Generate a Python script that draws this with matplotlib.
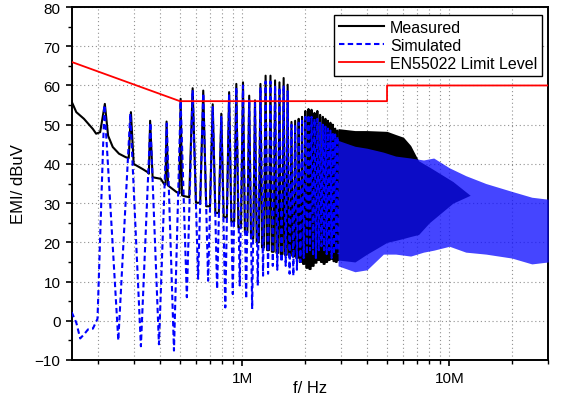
import numpy as np
import matplotlib.pyplot as plt
from matplotlib.ticker import FixedLocator, NullFormatter, MultipleLocator

plt.rcParams['font.family'] = ['Liberation Sans', 'DejaVu Sans']

# switching fundamental (MHz), harmonics are multiples of it
f0 = 0.072

# measured trace below 0.53 MHz (MHz, dBuV)
meas_low_f = [0.150, 0.158, 0.172, 0.190, 0.197, 0.206, 0.217, 0.225, 0.237, 0.254,
              0.274, 0.283, 0.290, 0.299, 0.330, 0.349, 0.354, 0.359, 0.369, 0.404,
              0.419, 0.426, 0.431, 0.438, 0.482, 0.497, 0.504, 0.512, 0.523]
meas_low_v = [55.9, 53.2, 51.5, 48.9, 47.7, 48.1, 55.3, 47.2, 44.3, 42.6,
              41.7, 41.5, 53.2, 40.0, 38.7, 37.9, 37.5, 51.0, 36.6, 36.2,
              34.9, 34.7, 50.8, 34.5, 32.8, 32.5, 56.6, 32.0, 31.8]

# measured harmonic peaks, orders 8..40
meas_n = list(range(8, 41))
meas_peak = [59.3, 58.7, 55.2, 52.8, 58.3, 60.4, 60.8, 57.4, 56.2, 60.4,
             62.5, 62.5, 61.3, 60.8, 61.9, 60.2, 50.7, 51.0, 51.5, 52.0,
             53.5, 54.0, 53.8, 53.0, 53.5, 52.5, 52.0, 51.5, 51.0, 50.5,
             50.0, 49.0, 48.5]
# measured floor between order n and n+1, n = 7..40
meas_floor = [31.5, 30.1, 29.2, 27.5, 26.4, 25.3, 23.8, 22.5, 21.0, 20.0,
              18.7, 18.0, 17.6, 17.3, 17.0, 16.8, 16.6, 16.4, 16.0, 15.0,
              14.5, 13.5, 13.2, 14.0, 14.8, 15.5, 15.0, 14.5, 15.0, 15.5,
              15.8, 15.2, 15.0, 15.5]

# simulated trace below the 3rd harmonic
sim_low_f = [0.150, 0.158, 0.165, 0.172, 0.180, 0.190, 0.200]
sim_low_v = [2.2, -0.5, -4.5, -3.5, -2.2, -2.0, 0.5]
# simulated harmonic peaks and troughs, orders 3..40
sim_n = list(range(3, 41))
sim_peak = [55.0, 52.8, 50.5, 50.3, 56.0, 58.8, 58.0, 54.5, 52.0, 57.5,
            59.5, 60.0, 56.5, 55.5, 59.5, 61.0, 61.0, 60.0, 59.5, 60.0,
            58.5, 50.0, 50.0, 50.5, 51.0, 52.0, 52.5, 52.0, 51.5, 51.5,
            50.5, 50.0, 49.5, 49.0, 48.5, 48.0, 47.5, 47.0]
sim_trough = [-5.0, -6.5, -6.0, -7.6, 6.0, 10.7, 10.2, 8.1, 3.4, 6.8,
              9.0, 5.6, 3.0, 9.0, 11.5, 12.0, 14.0, 13.0, 15.0, 14.0,
              12.0, 11.5, 13.0, 15.0, 16.0, 17.0, 18.0, 17.0, 16.0, 18.0,
              19.0, 18.0, 17.0, 18.0, 16.0, 17.0, 18.0, 17.0]

# dense part above ~2.9 MHz: envelopes
meas_band_f = [2.9, 3.5, 4.0, 5.0, 5.5, 6.0, 6.5, 7.1, 8.0, 10.4, 12.6]
meas_top = [49.0, 48.5, 48.5, 48.3, 47.5, 46.8, 44.7, 40.8, 39.2, 35.5, 32.0]
meas_bot = [15.5, 15.0, 17.0, 20.0, 20.5, 21.0, 21.5, 22.0, 25.0, 30.0, 32.0]
sim_band_f = [2.9, 3.5, 4.0, 4.8, 5.5, 6.5, 7.5, 8.4, 10.0, 12.0, 15.0, 20.0, 25.0, 30.0]
sim_top = [46.0, 44.5, 44.0, 43.0, 42.0, 41.5, 41.0, 41.5, 39.0, 37.0, 35.0, 33.0, 31.5, 31.0]
sim_bot = [14.0, 12.5, 13.0, 17.0, 17.0, 16.5, 17.5, 18.0, 19.0, 17.5, 17.0, 16.0, 14.5, 15.0]

# EN55022 limit
lim_f = [0.15, 0.5, 5.0, 5.0, 30.0]
lim_v = [66.0, 56.0, 56.0, 60.0, 60.0]

# build the measured line: narrow spikes on the floor
mx = list(meas_low_f)
my = list(meas_low_v)
d = 0.3 * f0
for i, n in enumerate(meas_n):
    fc = n * f0
    mx += [fc - d, fc, fc + d]
    my += [meas_floor[i], meas_peak[i], meas_floor[i + 1]]

# simulated line: peak / trough zigzag
sx = list(sim_low_f)
sy = list(sim_low_v)
for i, n in enumerate(sim_n):
    sx += [n * f0, (n + 0.5) * f0]
    sy += [sim_peak[i], sim_trough[i]]

fig = plt.figure(figsize=(5.64, 4.02), dpi=100)
ax = fig.add_axes([0.127, 0.102, 0.845, 0.878])

ax.plot(mx, my, color='black', lw=1.5, label='Measured', zorder=3)
ax.fill_between(meas_band_f, meas_bot, meas_top, color='black', lw=0, zorder=3)
ax.plot(sx, sy, color='#0000ff', lw=1.5, ls=(0, (2.6, 1.6)), label='Simulated', zorder=4)
ax.fill_between(sim_band_f, sim_bot, sim_top, color='#1010ff', alpha=0.78, lw=0, zorder=4)
ax.plot(lim_f, lim_v, color='red', lw=1.3, label='EN55022 Limit Level', zorder=5)

ax.set_xscale('log')
ax.set_xlim(0.15, 30)
ax.set_ylim(-10, 80)

ax.xaxis.set_major_locator(FixedLocator([1, 10]))
ax.set_xticklabels(['1M', '10M'])
minors = [m * 10.0 ** e for e in (-1, 0, 1) for m in range(2, 10)]
ax.xaxis.set_minor_locator(FixedLocator([v for v in minors if 0.15 <= v <= 30]))
ax.xaxis.set_minor_formatter(NullFormatter())
ax.yaxis.set_major_locator(MultipleLocator(10))
ax.yaxis.set_minor_locator(MultipleLocator(5))

ax.grid(True, which='both', axis='x', color='#909090', ls=(0, (1, 2.5)), lw=0.8)
ax.grid(True, which='major', axis='y', color='#909090', ls=(0, (1, 2.5)), lw=0.8)
ax.set_axisbelow(True)

ax.tick_params(which='major', direction='out', length=4.5, width=1.2, pad=3.5, labelsize=11)
ax.tick_params(which='minor', direction='out', length=3, width=1.0)
for s in ax.spines.values():
    s.set_linewidth(1.4)

ax.set_xlabel('f/ Hz', fontsize=12, labelpad=-4)
ax.set_ylabel('EMI/ dBuV', fontsize=12, labelpad=6)

leg = ax.legend(loc='upper right', bbox_to_anchor=(0.987, 0.978), borderaxespad=0,
                fontsize=11.5, fancybox=False, edgecolor='black', framealpha=1,
                handlelength=2.8, labelspacing=0.2, borderpad=0.3, handletextpad=0.4)
leg.get_frame().set_linewidth(1.0)

fig.savefig('out.png', dpi=100)
